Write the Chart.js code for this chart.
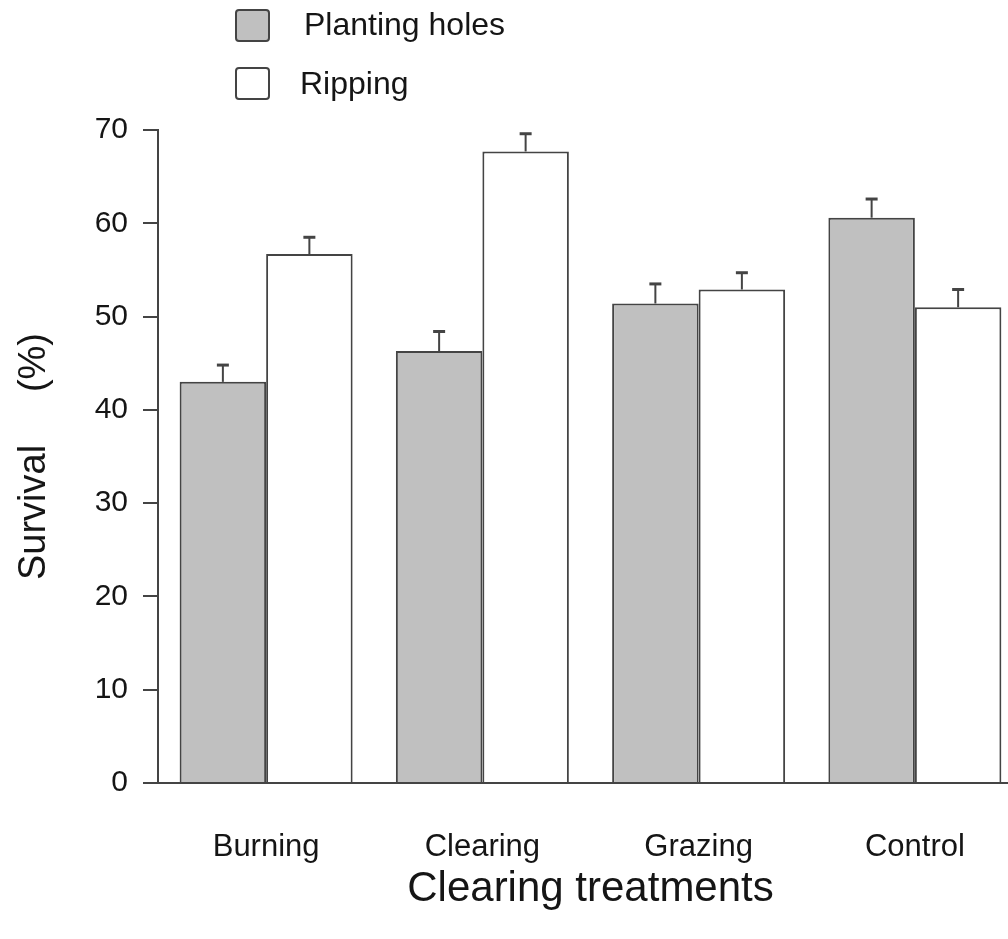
<!DOCTYPE html>
<html>
<head>
<meta charset="utf-8">
<script src="https://cdn.jsdelivr.net/npm/chart.js@4"></script>
<style>
  html, body { margin: 0; padding: 0; background: #fff; overflow: hidden; }
  #wrap { width: 1008px; height: 939px; overflow: hidden; }
</style>
</head>
<body>
<div id="wrap"><canvas id="survivalChart" width="1023" height="939"></canvas></div>
<script>
// data
var categories = ['Burning', 'Clearing', 'Grazing', 'Control'];
var seriesNames = ['Planting holes', 'Ripping'];
var plantingHoles = [43.0, 46.3, 51.4, 60.6];
var ripping = [56.7, 67.7, 52.9, 51.0];
var plantingHolesErr = [1.8, 2.1, 2.1, 2.0];
var rippingErr = [1.8, 1.9, 1.8, 1.9];
var yTicks = [0, 10, 20, 30, 40, 50, 60, 70];

var FONT = "'Liberation Sans', Arial, sans-serif";
var INK = '#151515';
var LINE = '#444';

// one-sided (upper) error bars
var errorBars = {
    id: 'errorBars',
    afterDatasetsDraw: function(chart) {
        var ctx = chart.ctx;
        var y = chart.scales.y;
        ctx.save();
        ctx.strokeStyle = LINE;
        chart.data.datasets.forEach(function(ds, i) {
            var meta = chart.getDatasetMeta(i);
            meta.data.forEach(function(bar, j) {
                var top = y.getPixelForValue(ds.data[j] + ds.errors[j]);
                ctx.lineWidth = 2;
                ctx.beginPath();
                ctx.moveTo(bar.x, bar.y);
                ctx.lineTo(bar.x, top);
                ctx.stroke();
                ctx.lineWidth = 3;
                ctx.beginPath();
                ctx.moveTo(bar.x - 6, top);
                ctx.lineTo(bar.x + 6, top);
                ctx.stroke();
            });
        });
        ctx.restore();
    }
};

// stacked legend in the top-left corner
var stackedLegend = {
    id: 'stackedLegend',
    afterDraw: function(chart) {
        var ctx = chart.ctx;
        var rows = [{ y: 10, textY: 26 }, { y: 68, textY: 85 }];
        ctx.save();
        chart.data.datasets.forEach(function(ds, i) {
            var r = rows[i];
            ctx.fillStyle = ds.backgroundColor;
            ctx.strokeStyle = LINE;
            ctx.lineWidth = 2;
            ctx.beginPath();
            ctx.roundRect(236, r.y, 33, 31, 3);
            ctx.fill();
            ctx.stroke();
            ctx.fillStyle = INK;
            ctx.font = '32px ' + FONT;
            ctx.textBaseline = 'middle';
            ctx.textAlign = 'left';
            ctx.fillText(ds.label, i === 0 ? 304 : 300, r.textY);
        });
        ctx.restore();
    }
};

var ctx = document.getElementById('survivalChart').getContext('2d');
var survivalChart = new Chart(ctx, {
    type: 'bar',
    data: {
        labels: categories,
        datasets: [{
            label: seriesNames[0],
            data: plantingHoles,
            errors: plantingHolesErr,
            backgroundColor: '#c0c0c0',
            borderColor: LINE,
            borderWidth: 2,
            barPercentage: 1.0,
            categoryPercentage: 0.8
        }, {
            label: seriesNames[1],
            data: ripping,
            errors: rippingErr,
            backgroundColor: '#ffffff',
            borderColor: LINE,
            borderWidth: 2,
            barPercentage: 1.0,
            categoryPercentage: 0.8
        }]
    },
    options: {
        responsive: false,
        animation: false,
        layout: { padding: { top: 130, left: 0, right: 0, bottom: 0 } },
        plugins: {
            legend: { display: false },
            tooltip: { enabled: false }
        },
        scales: {
            x: {
                afterFit: function(scale) { scale.height = 156; },
                grid: { display: false, drawTicks: false },
                border: { display: true, color: LINE, width: 2 },
                ticks: {
                    color: INK,
                    padding: 46,
                    font: { family: FONT, size: 31 }
                },
                title: {
                    display: true,
                    text: 'Clearing treatments',
                    color: INK,
                    padding: { top: 0, bottom: 24 },
                    font: { family: FONT, size: 42 }
                }
            },
            y: {
                min: 0,
                max: 70,
                afterFit: function(scale) { scale.width = 158; },
                afterBuildTicks: function(scale) {
                    scale.ticks = yTicks.map(function(v) { return { value: v }; });
                },
                grid: {
                    drawOnChartArea: false,
                    drawTicks: true,
                    tickLength: 15,
                    color: LINE,
                    lineWidth: 2
                },
                border: { display: true, color: LINE, width: 2 },
                ticks: {
                    color: INK,
                    padding: 15,
                    font: { family: FONT, size: 30 }
                },
                title: {
                    display: true,
                    text: 'Survival     (%)',
                    color: INK,
                    padding: { top: 12, bottom: 0 },
                    font: { family: FONT, size: 38 }
                }
            }
        }
    },
    plugins: [errorBars, stackedLegend]
});
</script>
</body>
</html>
